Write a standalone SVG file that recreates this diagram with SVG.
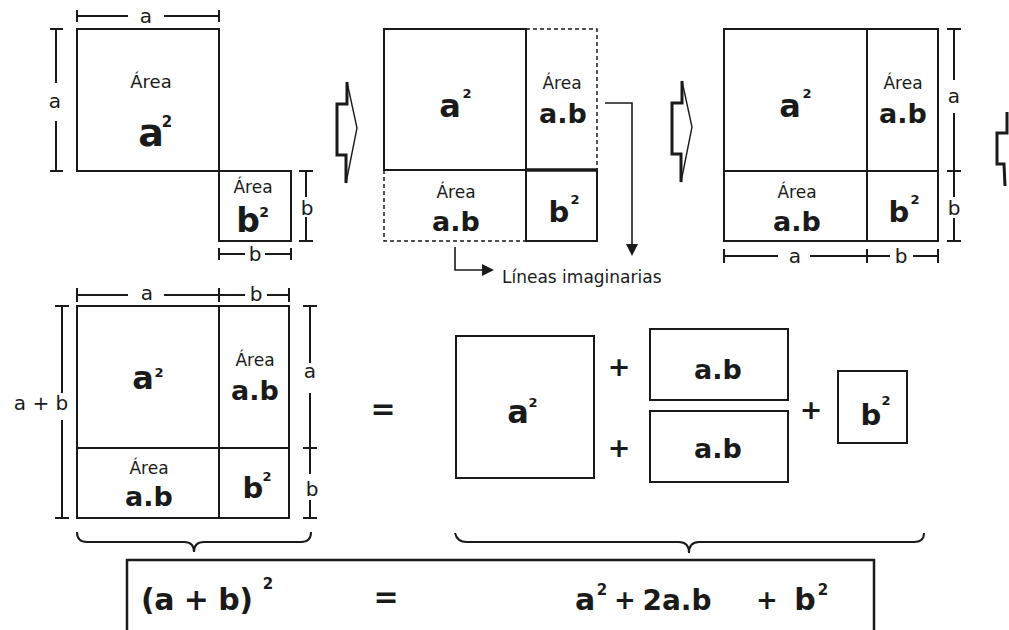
<svg xmlns="http://www.w3.org/2000/svg" width="1009" height="630" viewBox="0 0 1009 630">
<style>
.box{fill:none;stroke:#1a1a1a;stroke-width:2}
.thick{fill:none;stroke:#1a1a1a;stroke-width:3.5}
.dash{fill:none;stroke:#1a1a1a;stroke-width:1.5;stroke-dasharray:4 3}
.dim{fill:none;stroke:#1a1a1a;stroke-width:2}
.con{fill:none;stroke:#1a1a1a;stroke-width:1.6}
.head{fill:#1a1a1a}
.lbl{font-family:"DejaVu Sans",sans-serif;font-size:20px;fill:#1a1a1a;text-anchor:middle}
.area{font-family:"DejaVu Sans",sans-serif;font-size:17px;fill:#1a1a1a;text-anchor:middle}
.note{font-family:"DejaVu Sans",sans-serif;font-size:17px;fill:#1a1a1a}
.m{font-family:"DejaVu Sans",sans-serif;font-weight:bold;fill:#1a1a1a;text-anchor:middle}
.ab{font-size:27px}
.sq{font-size:32px}
.bq{font-size:29px}
.sup{font-size:13px}
.f{font-size:30px}
.fp{font-size:26px}
.harrow-fill{fill:#fff;stroke:#1a1a1a;stroke-width:1.4;stroke-linejoin:miter}
.harrow-edge{fill:none;stroke:#1a1a1a;stroke-width:3;stroke-linejoin:miter}
</style>
<defs>
<g id="harrow">
<polygon class="harrow-fill" points="347,82 357,128 346,183 346,155 337,155 337,104 347,104"/>
<polyline class="harrow-edge" points="347,82 347,104 337,104 337,155 346,155 346,183"/>
</g>
</defs>

<g id="panel1">
<rect class="box" x="77" y="29" width="142" height="142"/>
<rect class="box" x="219" y="171" width="72" height="70"/>
<text class="area" x="151" y="88" style="font-size:18px">Área</text>
<text class="m" x="151" y="146" style="font-size:38px">a</text>
<text class="m sup" x="167" y="127" style="font-size:15px">2</text>
<text class="area" x="253" y="193">Área</text>
<text class="m" x="248" y="232" style="font-size:33px">b</text>
<text class="m sup" x="264" y="217" style="font-size:14px">2</text>
<path class="dim" d="M77,16 H128 M164,16 H219 M77,10 V22 M219,10 V22"/>
<text class="lbl" x="146" y="23">a</text>
<path class="dim" d="M56,29 V83 M56,121 V171 M50,29 H63 M50,171 H63"/>
<text class="lbl" x="55" y="108">a</text>
<path class="dim" d="M306,171 V197 M306,217 V241 M299,171 H313 M299,241 H313"/>
<text class="lbl" x="307" y="215">b</text>
<path class="dim" d="M219,254 H245 M265,254 H291 M219,248 V260 M291,248 V260"/>
<text class="lbl" x="255" y="261">b</text>
</g>

<g id="arrow1"><use href="#harrow"/></g>

<g id="panel2">
<rect class="box" x="384" y="29" width="142" height="141"/>
<path class="dash" d="M526,29 H597 V170"/>
<path class="dash" d="M384,170 V241 H526"/>
<rect class="box" x="526" y="170" width="71" height="71"/>
<path class="thick" d="M526,170 H598"/>
<text class="m sq" x="450" y="117">a</text>
<text class="m sup" x="467" y="98">2</text>
<text class="area" x="562" y="89">Área</text>
<text class="m ab" x="563" y="123">a.b</text>
<text class="area" x="456" y="198">Área</text>
<text class="m ab" x="456" y="231">a.b</text>
<text class="m bq" x="559" y="222">b</text>
<text class="m sup" x="575" y="204">2</text>
</g>

<g id="connectors">
<polyline class="con" points="605,103 632,103 632,245"/>
<polygon class="head" points="626,244 638,244 632,256"/>
<polyline class="con" points="455,247 455,270 482,270"/>
<polygon class="head" points="482,264 482,276 494,270"/>
</g>
<g id="note">
<text class="note" x="502" y="283">Líneas imaginarias</text>
</g>

<g id="arrow2"><use href="#harrow" transform="translate(335,-1)"/></g>

<g id="panel3">
<rect class="box" x="724" y="29" width="214" height="212"/>
<path class="box" d="M867,29 V241 M724,171 H938"/>
<text class="m sq" x="790" y="117">a</text>
<text class="m sup" x="807" y="98">2</text>
<text class="area" x="903" y="89">Área</text>
<text class="m ab" x="903" y="123">a.b</text>
<text class="area" x="797" y="198">Área</text>
<text class="m ab" x="797" y="231">a.b</text>
<text class="m bq" x="899" y="222">b</text>
<text class="m sup" x="915" y="204">2</text>
<path class="dim" d="M954,29 V80 M954,113 V171 M954,171 V197 M954,218 V241 M947,29 H961 M947,171 H961 M947,241 H961"/>
<text class="lbl" x="954" y="103">a</text>
<text class="lbl" x="954" y="215">b</text>
<path class="dim" d="M724,256 H778 M810,256 H867 M867,256 H890 M913,256 H938 M724,249 V263 M867,249 V263 M938,249 V263"/>
<text class="lbl" x="795" y="263">a</text>
<text class="lbl" x="901" y="263">b</text>
</g>

<g id="arrow3">
<polyline class="harrow-edge" points="1007,112 1007,133 997,133 997,164 1004,164 1005,186"/>
</g>

<g id="panel4">
<rect class="box" x="77" y="306" width="212" height="212"/>
<path class="box" d="M219,306 V518 M77,448 H289"/>
<text class="m sq" x="143" y="389">a</text>
<text class="m sup" x="159" y="377">2</text>
<text class="area" x="255" y="366">Área</text>
<text class="m ab" x="255" y="400">a.b</text>
<text class="area" x="149" y="474">Área</text>
<text class="m ab" x="149" y="506">a.b</text>
<text class="m bq" x="253" y="498">b</text>
<text class="m sup" x="267" y="481">2</text>
<path class="dim" d="M77,295 H128 M164,295 H219 M219,295 H245 M267,295 H289 M77,288 V302 M219,288 V302 M289,288 V302"/>
<text class="lbl" x="147" y="300">a</text>
<text class="lbl" x="256" y="301">b</text>
<path class="dim" d="M62,306 V393 M62,420 V518 M55,306 H69 M55,518 H69"/>
<text class="lbl" x="41" y="410">a + b</text>
<path class="dim" d="M310,306 V363 M310,393 V448 M310,448 V474 M310,500 V518 M303,306 H317 M303,448 H317 M303,518 H317"/>
<text class="lbl" x="310" y="378">a</text>
<text class="lbl" x="312" y="496">b</text>
</g>

<g id="equals1">
<text class="m f" x="383" y="419">=</text>
</g>

<g id="panel5">
<rect class="box" x="456" y="336" width="138" height="142"/>
<text class="m sq" x="518" y="423">a</text>
<text class="m sup" x="533" y="407">2</text>
<text class="m" x="619" y="376" style="font-size:27px">+</text>
<rect class="box" x="650" y="329" width="138" height="71"/>
<text class="m ab" x="718" y="379">a.b</text>
<text class="m" x="619" y="457" style="font-size:27px">+</text>
<rect class="box" x="650" y="411" width="138" height="71"/>
<text class="m ab" x="718" y="458">a.b</text>
<text class="m" x="811" y="419" style="font-size:27px">+</text>
<rect class="box" x="838" y="371" width="69" height="72"/>
<text class="m bq" x="871" y="425">b</text>
<text class="m sup" x="886" y="405">2</text>
</g>

<g id="braces">
<path class="dim" d="M77,532 Q77,542 87,542 L184,542 Q194,542 194,552 Q194,542 204,542 L301,542 Q311,542 311,532"/>
<path class="dim" d="M455,533 Q457,542 467,542 L679,542 Q689,542 689,553 Q689,542 699,542 L914,542 Q924,542 924,533"/>
</g>

<g id="formula">
<path class="box" d="M127,632 V560 H874 V632" style="stroke-width:2.5"/>
<text class="m f" x="197" y="610" textLength="112">(a + b)</text>
<text class="m" x="268" y="589" style="font-size:15px">2</text>
<text class="m f" x="386" y="607">=</text>
<text class="m f" x="585" y="610">a</text>
<text class="m" x="602" y="595" style="font-size:15px">2</text>
<text class="m fp" x="625" y="609">+</text>
<text class="m" x="677" y="610" style="font-size:28px">2a.b</text>
<text class="m fp" x="767" y="609">+</text>
<text class="m f" x="805" y="610">b</text>
<text class="m" x="823" y="595" style="font-size:15px">2</text>
</g>
</svg>
